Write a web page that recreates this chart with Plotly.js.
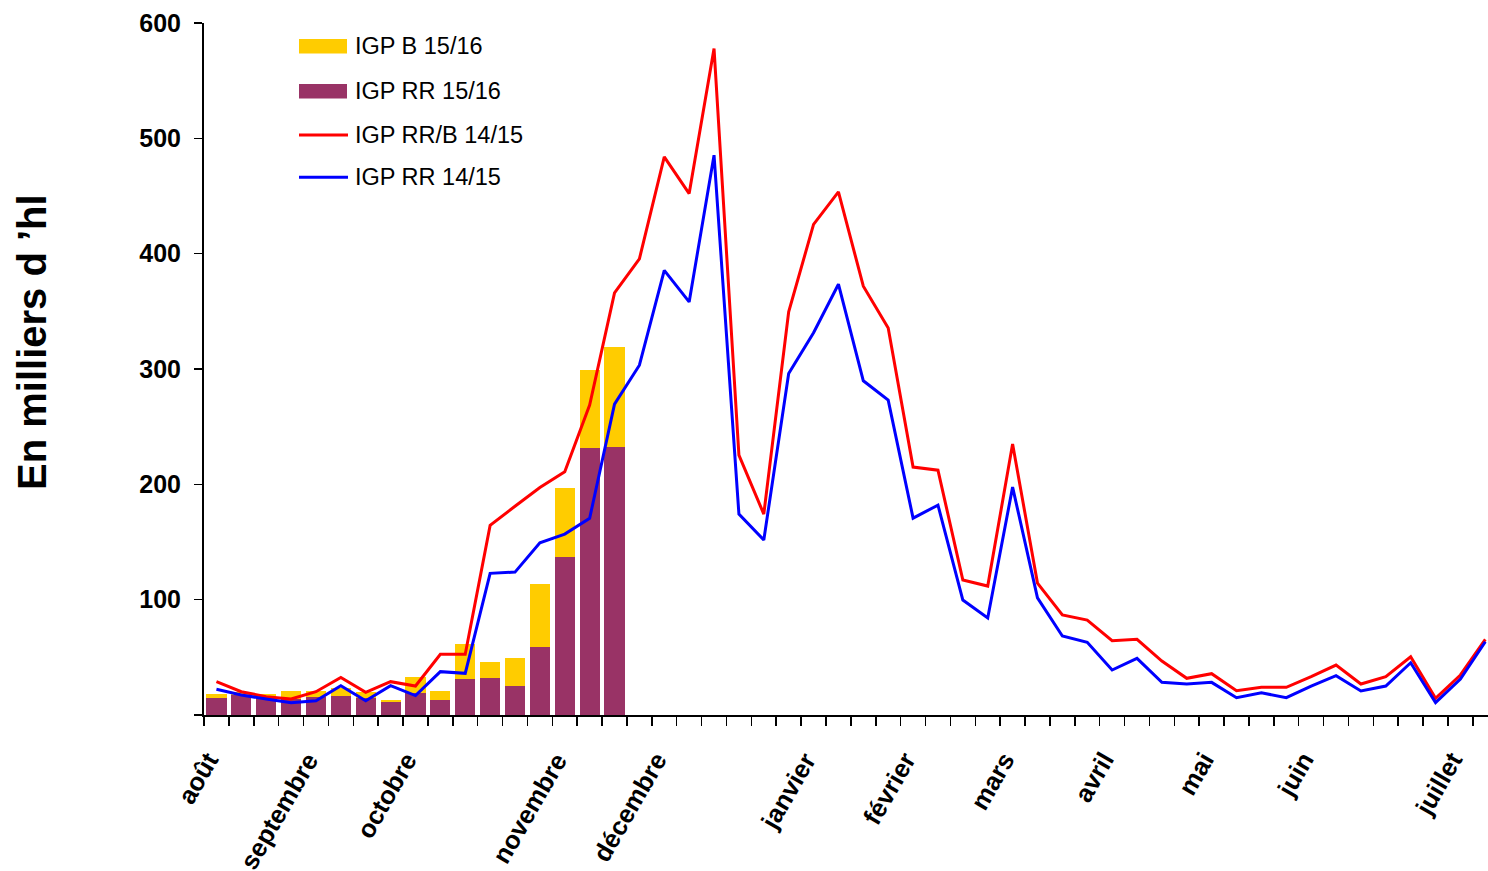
<!DOCTYPE html>
<html>
<head>
<meta charset="utf-8">
<script src="https://cdn.plot.ly/plotly-3.0.1.min.js"></script>
<style>
  html, body { margin: 0; padding: 0; background: #fff; overflow: hidden; }
  #chart { width: 1488px; height: 871px; }
</style>
</head>
<body>
<div id="chart"></div>
<script>
// ---- Data ----
// Campaign weeks (août -> juillet)
const semaines = [1,2,3,4,5,6,7,8,9,10,11,12,13,14,15,16,17,18,19,20,21,22,23,24,25,26,
                  27,28,29,30,31,32,33,34,35,36,37,38,39,40,41,42,43,44,45,46,47,48,49,50,51,52];

// Month labels and the week they are written under
const moisLabels = ["août","septembre","octobre","novembre","décembre","janvier","février","mars","avril","mai","juin","juillet"];
const moisSemaine = [1,5,9,15,19,25,29,33,37,41,45,51];

// 2015/16 campaign (bars, first 17 weeks)
const semaines1516 = [1,2,3,4,5,6,7,8,9,10,11,12,13,14,15,16,17];
const igpRR1516 = [15, 17, 16, 13.5, 16, 16.5, 15, 11.3, 19, 13, 31.2, 32, 25, 59, 137, 231.5, 232];
const igpB1516  = [3, 3, 2.5, 7.5, 5, 7, 5, 1.7, 14, 8, 30.3, 14, 24, 54.5, 60, 68, 87];

// 2014/15 campaign (lines)
const igpRRB1415 = [28.9, 20.2, 15.9, 13.9, 20.2, 32.6, 19.6, 28.9, 25.1, 52.6, 52.6, 164.4, 181, 197.3, 210.9, 268.7,
                    366, 395.5, 483.9, 452.1, 577.8, 225.3, 174.2, 349.5, 425.4, 453.5, 371.8, 335.5, 215, 212.3,
                    117, 111.8, 234.9, 114.4, 86.7, 82.3, 64.4, 65.6, 46.8, 31.8, 35.8, 21.1, 24, 24, 33.2, 43.3,
                    26.9, 33.2, 50.5, 14.4, 34.7, 65.6];
const igpRR1415  = [22.3, 17.3, 13.9, 10.7, 12.4, 25.4, 12.4, 25.4, 16.8, 37.6, 36.1, 122.8, 123.9, 149.3, 156.9, 170.5,
                    269.5, 303.3, 385.5, 358.2, 485.4, 174.2, 151.7, 296.1, 331.5, 373.5, 289.8, 273, 170.7, 182,
                    99.7, 84.1, 197.6, 101.5, 68.5, 63, 39, 49.1, 28.3, 26.9, 28.3, 15, 19.3, 15, 25.1, 34.1,
                    20.8, 25.1, 45.3, 10.7, 31.2, 63.5];

const seriesNames = ["IGP B 15/16", "IGP RR 15/16", "IGP RR/B 14/15", "IGP RR 14/15"];
const yTickVals = [0, 100, 200, 300, 400, 500, 600];
const yTickText = ["", "100", "200", "300", "400", "500", "600"];
const yTitle = "En milliers d \u2019hl";

// ---- Styles ----
const COL_B = "#FFCC00", COL_RR = "#993366", COL_RED = "#FF0000", COL_BLUE = "#0000FF";
const FONT = "Liberation Sans, Arial, Helvetica, sans-serif";

// plot-area geometry (pixels)
const M = {l: 204, r: 0, t: 23, b: 156};
const W = 1488 - M.l - M.r, H = 871 - M.t - M.b;
const px = x => (x - M.l) / W;
const py = y => (M.t + H - y) / H;

const traces = [
  {type: "bar", x: semaines1516, y: igpRR1516, name: seriesNames[1], marker: {color: COL_RR, line: {width: 0}}, showlegend: false, hoverinfo: "skip"},
  {type: "bar", x: semaines1516, y: igpB1516, name: seriesNames[0], marker: {color: COL_B, line: {width: 0}}, showlegend: false, hoverinfo: "skip"},
  {type: "scatter", mode: "lines", x: semaines, y: igpRRB1415, name: seriesNames[2], line: {color: COL_RED, width: 3}, showlegend: false, hoverinfo: "skip"},
  {type: "scatter", mode: "lines", x: semaines, y: igpRR1415, name: seriesNames[3], line: {color: COL_BLUE, width: 3}, showlegend: false, hoverinfo: "skip"}
];

// tick marks at category boundaries
const boundaries = semaines.map(s => s - 0.5).concat([semaines[semaines.length - 1] + 0.5]);

const annotations = [];
moisLabels.forEach((m, k) => {
  annotations.push({
    xref: "x", yref: "paper", x: moisSemaine[k] + 0.4, y: 0, yshift: -30,
    xanchor: "right", yanchor: "top", textangle: -60, showarrow: false,
    text: m, font: {family: FONT, size: 25.5, color: "#000", weight: "bold"}
  });
});

// custom legend
const legRows = [
  {kind: "rect", color: COL_B, y: 46.2, text: seriesNames[0]},
  {kind: "rect", color: COL_RR, y: 91.2, text: seriesNames[1]},
  {kind: "line", color: COL_RED, y: 135, text: seriesNames[2]},
  {kind: "line", color: COL_BLUE, y: 177.3, text: seriesNames[3]}
];
const shapes = [];
legRows.forEach(r => {
  if (r.kind === "rect") {
    shapes.push({type: "rect", xref: "paper", yref: "paper", x0: px(299), x1: px(347), y0: py(r.y + 7.2), y1: py(r.y - 7.2),
                 fillcolor: r.color, line: {width: 0}});
  } else {
    shapes.push({type: "line", xref: "paper", yref: "paper", x0: px(299), x1: px(348), y0: py(r.y), y1: py(r.y),
                 line: {color: r.color, width: 3}});
  }
  annotations.push({xref: "paper", yref: "paper", x: px(353), y: py(r.y - 0.3), xanchor: "left", yanchor: "middle",
                    showarrow: false, text: r.text, font: {family: FONT, size: 23.5, color: "#000"}});
});

// y-axis title
annotations.push({xref: "paper", yref: "paper", x: px(32), y: py(342), xanchor: "center", yanchor: "middle",
                  textangle: -90, showarrow: false, text: yTitle,
                  font: {family: FONT, size: 40, color: "#000", weight: "bold"}});

const layout = {
  width: 1488, height: 871,
  margin: M,
  paper_bgcolor: "#fff", plot_bgcolor: "#fff",
  barmode: "stack", bargap: 0.19,
  showlegend: false,
  xaxis: {
    type: "linear", range: [0.5, 0.5 + W / 24.88],
    showgrid: false, zeroline: false,
    showline: true, linecolor: "#000", linewidth: 2,
    tickmode: "array", tickvals: boundaries, ticktext: boundaries.map(() => ""),
    ticks: "outside", ticklen: 9, tickwidth: 1.5, tickcolor: "#000"
  },
  yaxis: {
    range: [0, 600], showgrid: false, zeroline: false,
    showline: true, linecolor: "#000", linewidth: 2,
    tickmode: "array", tickvals: yTickVals, ticktext: yTickText,
    ticks: "outside", ticklen: 8, tickwidth: 1.5, tickcolor: "#000",
    ticklabelstandoff: 8,
    tickfont: {family: FONT, size: 25, color: "#000", weight: "bold"}
  },
  shapes: shapes,
  annotations: annotations
};

Plotly.newPlot("chart", traces, layout, {staticPlot: true, displayModeBar: false});
</script>
</body>
</html>
